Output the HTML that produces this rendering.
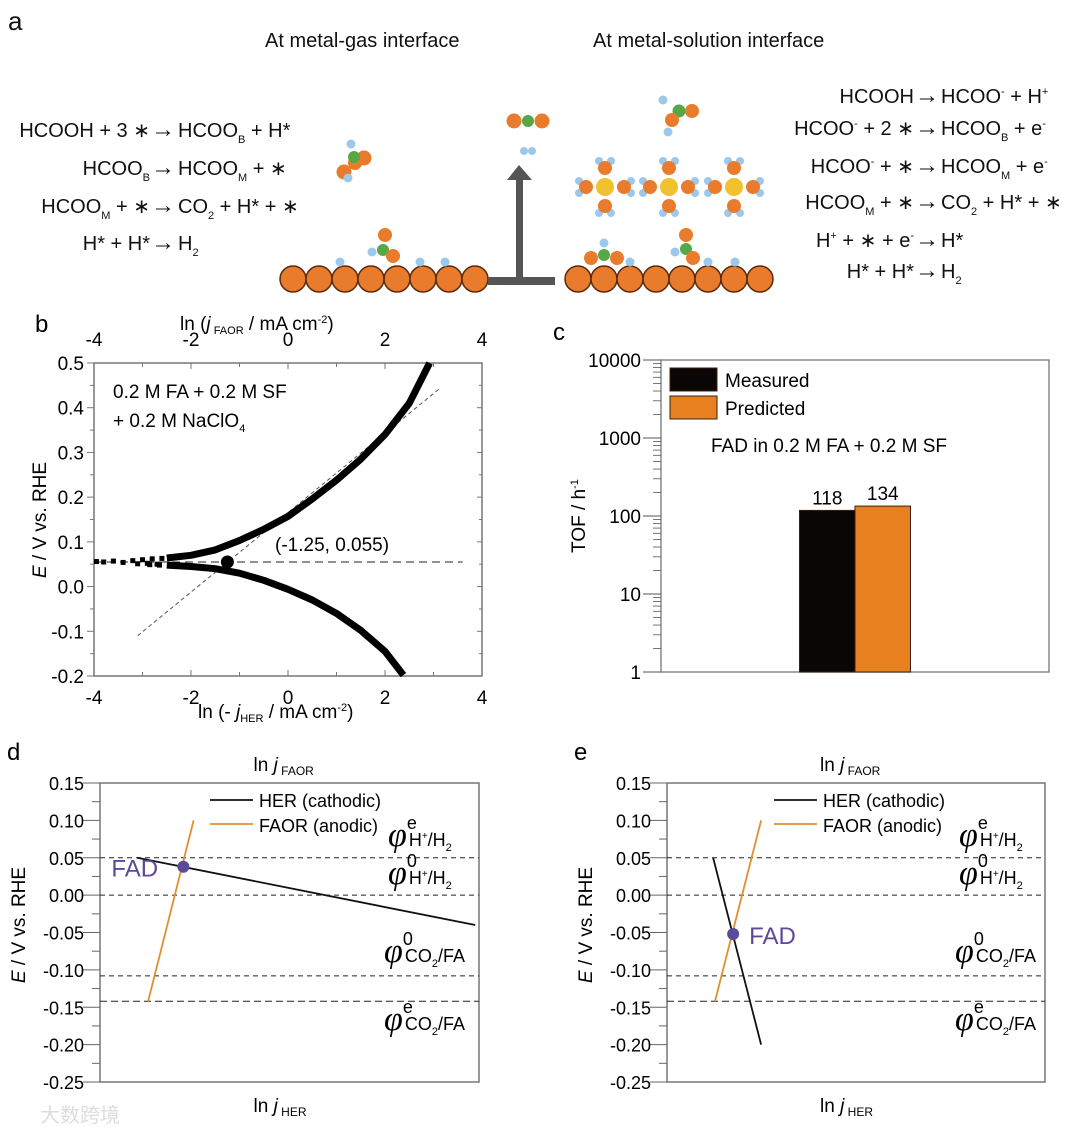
<!DOCTYPE html>
<html><head><meta charset="utf-8"><style>
html,body{margin:0;padding:0;background:#fff;}
svg{display:block;font-family:"Liberation Sans",Arial,sans-serif;}
</style></head><body>
<svg id="fig" width="1080" height="1137" viewBox="0 0 1080 1137" xmlns="http://www.w3.org/2000/svg">
<!-- Panel a -->
<g id="pa" font-size="20" fill="#111">
<text x="8" y="30" font-size="26">a</text>
<text x="265" y="47" font-size="20">At metal-gas interface</text>
<text x="593" y="47" font-size="20">At metal-solution interface</text>
<g>
<text x="150" y="137" text-anchor="end">HCOOH + 3 ∗</text><text x="163" y="137" text-anchor="middle" font-size="24">→</text><text x="178" y="137">HCOO<tspan font-size="11" dy="6">B</tspan><tspan dy="-6"> + H*</tspan></text>
<text x="150" y="175" text-anchor="end">HCOO<tspan font-size="11" dy="6">B</tspan><tspan dy="-6"></tspan></text><text x="163" y="175" text-anchor="middle" font-size="24">→</text><text x="178" y="175">HCOO<tspan font-size="11" dy="6">M</tspan><tspan dy="-6"> + ∗</tspan></text>
<text x="150" y="213" text-anchor="end">HCOO<tspan font-size="11" dy="6">M</tspan><tspan dy="-6"> + ∗</tspan></text><text x="163" y="213" text-anchor="middle" font-size="24">→</text><text x="178" y="213">CO<tspan font-size="11" dy="6">2</tspan><tspan dy="-6"> + H* + ∗</tspan></text>
<text x="150" y="250" text-anchor="end">H* + H*</text><text x="163" y="250" text-anchor="middle" font-size="24">→</text><text x="178" y="250">H<tspan font-size="11" dy="6">2</tspan></text>
</g>
<g>
<text x="914" y="103" text-anchor="end">HCOOH</text><text x="927" y="103" text-anchor="middle" font-size="24">→</text><text x="941" y="103">HCOO<tspan font-size="11" dy="-8">-</tspan><tspan dy="8"> + H</tspan><tspan font-size="11" dy="-8">+</tspan></text>
<text x="914" y="135" text-anchor="end">HCOO<tspan font-size="11" dy="-8">-</tspan><tspan dy="8"> + 2 ∗</tspan></text><text x="927" y="135" text-anchor="middle" font-size="24">→</text><text x="941" y="135">HCOO<tspan font-size="11" dy="6">B</tspan><tspan dy="-6"> + e</tspan><tspan font-size="11" dy="-8">-</tspan></text>
<text x="914" y="173" text-anchor="end">HCOO<tspan font-size="11" dy="-8">-</tspan><tspan dy="8"> + ∗</tspan></text><text x="927" y="173" text-anchor="middle" font-size="24">→</text><text x="941" y="173">HCOO<tspan font-size="11" dy="6">M</tspan><tspan dy="-6"> + e</tspan><tspan font-size="11" dy="-8">-</tspan></text>
<text x="914" y="209" text-anchor="end">HCOO<tspan font-size="11" dy="6">M</tspan><tspan dy="-6"> + ∗</tspan></text><text x="927" y="209" text-anchor="middle" font-size="24">→</text><text x="941" y="209">CO<tspan font-size="11" dy="6">2</tspan><tspan dy="-6"> + H* + ∗</tspan></text>
<text x="914" y="247" text-anchor="end">H<tspan font-size="11" dy="-8">+</tspan><tspan dy="8"> + ∗ + e</tspan><tspan font-size="11" dy="-8">-</tspan></text><text x="927" y="247" text-anchor="middle" font-size="24">→</text><text x="941" y="247">H*</text>
<text x="914" y="278" text-anchor="end">H* + H*</text><text x="927" y="278" text-anchor="middle" font-size="24">→</text><text x="941" y="278">H<tspan font-size="11" dy="6">2</tspan></text>
</g>
<g id="atoms"></g>
<g stroke-width="1">
<circle cx="355" cy="163" r="7" fill="#e87b2c"/><circle cx="351" cy="144" r="4.5" fill="#9cc8ec"/><circle cx="344" cy="172" r="7.5" fill="#e87b2c"/><circle cx="364" cy="158" r="7.5" fill="#e87b2c"/><circle cx="354" cy="157" r="6" fill="#55a845"/><circle cx="348" cy="178" r="4.5" fill="#9cc8ec"/>
<circle cx="385" cy="235" r="7" fill="#e87b2c"/><circle cx="383" cy="250" r="6" fill="#55a845"/><circle cx="372" cy="252" r="4.5" fill="#9cc8ec"/><circle cx="393" cy="256" r="7" fill="#e87b2c"/>
<circle cx="340" cy="262" r="4.5" fill="#9cc8ec"/><circle cx="420" cy="262" r="4.5" fill="#9cc8ec"/><circle cx="445" cy="262" r="4.5" fill="#9cc8ec"/>
<circle cx="514" cy="121" r="7.5" fill="#e87b2c"/><circle cx="528" cy="121" r="6" fill="#55a845"/><circle cx="542" cy="121" r="7.5" fill="#e87b2c"/>
<circle cx="524" cy="151" r="4" fill="#9cc8ec"/><circle cx="532" cy="151" r="4" fill="#9cc8ec"/>
<circle cx="663" cy="100" r="4.5" fill="#9cc8ec"/><circle cx="679" cy="111" r="6.5" fill="#55a845"/><circle cx="692" cy="111" r="7" fill="#e87b2c"/><circle cx="672" cy="120" r="7" fill="#e87b2c"/><circle cx="668" cy="132" r="4.5" fill="#9cc8ec"/>
<g id="ions"></g>
<circle cx="591" cy="258" r="7" fill="#e87b2c"/><circle cx="604" cy="255" r="6" fill="#55a845"/><circle cx="604" cy="243" r="4.5" fill="#9cc8ec"/><circle cx="617" cy="258" r="7" fill="#e87b2c"/>
<circle cx="686" cy="235" r="7" fill="#e87b2c"/><circle cx="686" cy="249" r="6" fill="#55a845"/><circle cx="675" cy="252" r="4.5" fill="#9cc8ec"/><circle cx="693" cy="258" r="7" fill="#e87b2c"/>
<circle cx="630" cy="262" r="4.5" fill="#9cc8ec"/><circle cx="708" cy="262" r="4.5" fill="#9cc8ec"/><circle cx="735" cy="262" r="4.5" fill="#9cc8ec"/>
</g>
<g fill="#555">
<rect x="488" y="277" width="67" height="8"/><rect x="516" y="178" width="7" height="100"/><polygon points="507,180 532,180 519,165"/>
</g>
</g>

<g id="pb"></g>
<g id="pc"></g>
<g id="pd"></g>
<g id="pe"></g>
<text x="40" y="1122" font-size="20" fill="#ddd" font-family="'Liberation Sans','Noto Sans CJK SC',sans-serif">大数跨境</text>
</svg>
<script>
// ---------- Panel b data ----------
const bXTicks = [-4, -2, 0, 2, 4];
const bYTicks = [0.5, 0.4, 0.3, 0.2, 0.1, 0.0, -0.1, -0.2];
const bYTickLabels = ["0.5", "0.4", "0.3", "0.2", "0.1", "0.0", "-0.1", "-0.2"];
const faorX = [-2.5, -2.0, -1.5, -1.0, -0.5, 0.0, 0.5, 1.0, 1.5, 2.0, 2.5, 2.92];
const faorE = [0.064, 0.070, 0.082, 0.103, 0.128, 0.157, 0.196, 0.238, 0.285, 0.340, 0.410, 0.500];
const herX = [-2.5, -2.0, -1.5, -1.0, -0.5, 0.0, 0.5, 1.0, 1.5, 2.0, 2.38];
const herE = [0.048, 0.045, 0.040, 0.030, 0.014, -0.006, -0.030, -0.060, -0.098, -0.145, -0.198];
const noiseX = [-3.95, -3.8, -3.6, -3.4, -3.2, -3.0, -2.9, -2.8, -2.7, -2.6, -3.1, -2.85, -2.65];
const noiseE = [0.056, 0.055, 0.057, 0.054, 0.058, 0.060, 0.052, 0.062, 0.050, 0.063, 0.051, 0.049, 0.048];
const tafelX = [-3.1, 3.15];
const tafelE = [-0.11, 0.445];
const ecorrPoint = [-1.25, 0.055];

// ---------- Panel c data ----------
const cCategories = ["Measured", "Predicted"];
const cValues = [118, 134];
const cTickValues = [1, 10, 100, 1000, 10000];
const cColors = ["#0a0606", "#e8801f"];

// ---------- Panel d/e data ----------
const deYTicks = [0.15, 0.10, 0.05, 0.00, -0.05, -0.10, -0.15, -0.20, -0.25];
const deYTickLabels = ["0.15", "0.10", "0.05", "0.00", "-0.05", "-0.10", "-0.15", "-0.20", "-0.25"];
const refLevels = [0.05, 0.0, -0.108, -0.142];
const dHerX = [0.98, 9.9];
const dHerE = [0.05, -0.04];
const dFaorX = [1.27, 2.47];
const dFaorE = [-0.142, 0.10];
const dFad = [2.2, 0.038];
const eHerX = [1.22, 2.49];
const eHerE = [0.05, -0.2];
const eFaorX = [1.27, 2.49];
const eFaorE = [-0.142, 0.10];
const eFad = [1.75, -0.052];

const NS = "http://www.w3.org/2000/svg";
function mk(parent, tag, attrs, text) {
  const el = document.createElementNS(NS, tag);
  for (const k in attrs) el.setAttribute(k, attrs[k]);
  if (text !== undefined) el.textContent = text;
  parent.appendChild(el);
  return el;
}

(function(){
  const g = document.getElementById('atoms');
  for (let r = 0; r < 2; r++) {
    for (let i = 0; i < 8; i++) {
      const c = mk(g, 'circle', {cx: (r ? 578 : 293) + i * 26, cy: 279, r: 13, fill: '#e87b2c', stroke: '#5a2a0a', 'stroke-width': 1.5});
      
      
    }
  }
  const ig = document.getElementById('ions');
  [605, 669, 734].forEach(cx => {
    const cy = 187;
    [[0,-19],[0,19],[-19,0],[19,0]].forEach(([dx,dy]) => {
      const ox = cx+dx, oy = cy+dy;
      if (dy) { mk(ig,'circle',{cx:ox-6,cy:oy+(dy>0?7:-7),r:4,fill:'#9cc8ec'}); mk(ig,'circle',{cx:ox+6,cy:oy+(dy>0?7:-7),r:4,fill:'#9cc8ec'}); }
      else { mk(ig,'circle',{cx:ox+(dx>0?7:-7),cy:oy-6,r:4,fill:'#9cc8ec'}); mk(ig,'circle',{cx:ox+(dx>0?7:-7),cy:oy+6,r:4,fill:'#9cc8ec'}); }
      mk(ig,'circle',{cx:ox,cy:oy,r:7,fill:'#e87b2c'});
    });
    mk(ig,'circle',{cx:cx,cy:cy,r:9,fill:'#f2c22e'});
  });
})();

// ---------- Panel b ----------
(function(){
  const g = document.getElementById('pb');
  const X0 = 94, X1 = 482, Y0 = 363, Y1 = 676;
  const sx = v => X0 + (v + 4) / 8 * (X1 - X0);
  const sy = v => Y0 + (0.5 - v) / 0.7 * (Y1 - Y0);
  let t = mk(g, 'text', {x: 35, y: 332, 'font-size': 24}, 'b');
   
  const fr = mk(g, 'rect', {x: X0, y: Y0, width: X1 - X0, height: Y1 - Y0, fill: 'none', stroke: '#777', 'stroke-width': 1.5});
   
  for (let v = -4; v <= 4; v++) {
    const L = v % 2 === 0 ? 6 : 4;
    mk(g, 'line', {x1: sx(v), x2: sx(v), y1: Y0, y2: Y0 + L, stroke: '#777'});
    mk(g, 'line', {x1: sx(v), x2: sx(v), y1: Y1, y2: Y1 - L, stroke: '#777'});
  }
  bXTicks.forEach(v => {
    t = mk(g, 'text', {x: sx(v), y: Y1 + 28, 'font-size': 19, 'text-anchor': 'middle'}, String(v));
     
    t = mk(g, 'text', {x: sx(v), y: Y0 - 17, 'font-size': 19, 'text-anchor': 'middle'}, String(v));
     
  });
  for (let k = 0; k <= 14; k++) {
    const v = 0.5 - k * 0.05;
    mk(g, 'line', {x1: X0 - (k % 2 ? 4 : 7), x2: X0, y1: sy(v), y2: sy(v), stroke: '#777'});
    mk(g, 'line', {x1: X1, x2: X1 - (k % 2 ? 3 : 5), y1: sy(v), y2: sy(v), stroke: '#777'});
  }
  bYTicks.forEach((v, i) => {
    t = mk(g, 'text', {x: X0 - 10, y: sy(v) + 7, 'font-size': 19, 'text-anchor': 'end'}, bYTickLabels[i]);
     
  });
  t = mk(g, 'text', {x: 0, y: 0, 'font-size': 19, transform: 'translate(46,520) rotate(-90)', 'text-anchor': 'middle'});
  t.innerHTML = '<tspan font-style="italic">E</tspan> / V vs. RHE';
   
  t = mk(g, 'text', {x: 180, y: 330, 'font-size': 19});
  t.innerHTML = 'ln (<tspan font-style="italic">j</tspan><tspan font-size="11" dy="4"> FAOR</tspan><tspan dy="-4"> / mA cm</tspan><tspan font-size="11" dy="-7">-2</tspan><tspan dy="7">)</tspan>';
   
  t = mk(g, 'text', {x: 198, y: 718, 'font-size': 19});
  t.innerHTML = 'ln (- <tspan font-style="italic">j</tspan><tspan font-size="11" dy="4">HER</tspan><tspan dy="-4"> / mA cm</tspan><tspan font-size="11" dy="-7">-2</tspan><tspan dy="7">)</tspan>';
   
  t = mk(g, 'text', {x: 113, y: 398, 'font-size': 19}, '0.2 M FA + 0.2 M SF');
   
  t = mk(g, 'text', {x: 113, y: 427, 'font-size': 19});
  t.innerHTML = '+ 0.2 M NaClO<tspan font-size="11" dy="5">4</tspan>';
   
  let l = mk(g, 'line', {x1: sx(-4), x2: sx(3.6), y1: sy(ecorrPoint[1]), y2: sy(ecorrPoint[1]), stroke: '#222', 'stroke-dasharray': '8,5', 'stroke-width': 1});
   
  l = mk(g, 'line', {x1: sx(tafelX[0]), x2: sx(tafelX[1]), y1: sy(tafelE[0]), y2: sy(tafelE[1]), stroke: '#555', 'stroke-dasharray': '4,3', 'stroke-width': 1});
   
  const path = (xs, es) => xs.map((x, i) => (i ? 'L' : 'M') + sx(x).toFixed(1) + ',' + sy(es[i]).toFixed(1)).join('');
  let p = mk(g, 'path', {d: path(faorX, faorE), fill: 'none', stroke: '#000', 'stroke-width': 7, 'stroke-linejoin': 'round'});
   
  p = mk(g, 'path', {d: path(herX, herE), fill: 'none', stroke: '#000', 'stroke-width': 7, 'stroke-linejoin': 'round'});
   
  noiseX.forEach((x, i) => {
    const r = mk(g, 'rect', {x: sx(x) - 2.5, y: sy(noiseE[i]) - 2.5, width: 5, height: 5, fill: '#000'});
     
  });
  const c = mk(g, 'circle', {cx: sx(ecorrPoint[0]), cy: sy(ecorrPoint[1]), r: 6.5, fill: '#000'});
   
  t = mk(g, 'text', {x: 275, y: 551, 'font-size': 19}, '(' + ecorrPoint[0] + ', ' + ecorrPoint[1] + ')');
   
})();

// ---------- Panel c ----------
(function(){
  const g = document.getElementById('pc');
  const X0 = 661, X1 = 1049, Y0 = 360, Y1 = 672;
  const sy = v => Y1 - Math.log10(v) / 4 * (Y1 - Y0);
  let t = mk(g, 'text', {x: 553, y: 340, 'font-size': 24}, 'c');
   
  const fr = mk(g, 'rect', {x: X0, y: Y0, width: X1 - X0, height: Y1 - Y0, fill: 'none', stroke: '#888', 'stroke-width': 1.5});
   
  for (let d = 0; d < 4; d++) for (let m = 2; m <= 9; m++) {
    const v = m * Math.pow(10, d);
    mk(g, 'line', {x1: X0 - 8, x2: X0, y1: sy(v), y2: sy(v), stroke: '#555', 'stroke-width': 0.8});
  }
  cTickValues.forEach(v => {
    mk(g, 'line', {x1: X0 - 18, x2: X0, y1: sy(v), y2: sy(v), stroke: '#555'});
    t = mk(g, 'text', {x: X0 - 20, y: sy(v) + 7, 'font-size': 19, 'text-anchor': 'end'}, String(v));
     
  });
  t = mk(g, 'text', {x: 0, y: 0, 'font-size': 19, transform: 'translate(585,516) rotate(-90)', 'text-anchor': 'middle'});
  t.innerHTML = 'TOF / h<tspan font-size="11" dy="-7">-1</tspan>';
   
  const bw = 55.5, bx0 = 799.5;
  cValues.forEach((v, i) => {
    const r = mk(g, 'rect', {x: bx0 + i * bw, y: sy(v), width: bw, height: Y1 - sy(v), fill: cColors[i], stroke: '#3a2010', 'stroke-width': 1});
    
    
    t = mk(g, 'text', {x: bx0 + i * bw + bw / 2, y: sy(v) - 6, 'font-size': 19, 'text-anchor': 'middle'}, String(v));
     
  });
  cCategories.forEach((c, i) => {
    const r = mk(g, 'rect', {x: 670, y: 368 + i * 28, width: 47, height: 23, fill: cColors[i], stroke: '#3a2010', 'stroke-width': 1});
     
    t = mk(g, 'text', {x: 725, y: 387 + i * 28, 'font-size': 19}, c);
     
  });
  t = mk(g, 'text', {x: 711, y: 452, 'font-size': 19}, 'FAD in 0.2 M FA + 0.2 M SF');
   
})();

// ---------- Panels d & e ----------
function drawMixed(id, X0, X1, label, herX, herE, faorX, faorE, fad, fadLabelDx, legendX, phiX) {
  const g = document.getElementById(id);
  const Y0 = 783, Y1 = 1082;
  const sx = v => X0 + v / 10 * (X1 - X0);
  const sy = v => Y0 + (0.15 - v) / 0.4 * (Y1 - Y0);
  let t = mk(g, 'text', {x: X0 - 93, y: 760, 'font-size': 24}, label);
   
  const fr = mk(g, 'rect', {x: X0, y: Y0, width: X1 - X0, height: Y1 - Y0, fill: 'none', stroke: '#777', 'stroke-width': 1.5});
   
  for (let k = 0; k <= 16; k++) {
    const v = 0.15 - k * 0.025;
    mk(g, 'line', {x1: X0 - (k % 2 ? 8 : 17), x2: X0, y1: sy(v), y2: sy(v), stroke: '#666'});
  }
  deYTicks.forEach((v, i) => {
    t = mk(g, 'text', {x: X0 - 16, y: sy(v) + 7, 'font-size': 18, 'text-anchor': 'end'}, deYTickLabels[i]);
     
  });
  t = mk(g, 'text', {x: 0, y: 0, 'font-size': 19, transform: 'translate(' + (X0 - 75) + ',925) rotate(-90)', 'text-anchor': 'middle'});
  t.innerHTML = '<tspan font-style="italic">E</tspan> / V vs. RHE';
   
  const cx = (X0 + X1) / 2 - 3;
  t = mk(g, 'text', {x: cx - 33, y: 771, 'font-size': 19});
  t.innerHTML = 'ln <tspan font-style="italic">j</tspan><tspan font-size="12" dy="4"> FAOR</tspan>';
   
  t = mk(g, 'text', {x: cx - 33, y: 1112, 'font-size': 19});
  t.innerHTML = 'ln <tspan font-style="italic">j</tspan><tspan font-size="12" dy="4"> HER</tspan>';
   
  refLevels.forEach(v => {
    const l = mk(g, 'line', {x1: X0, x2: X1, y1: sy(v), y2: sy(v), stroke: '#222', 'stroke-dasharray': v < -0.12 ? '7,4' : '5,4', 'stroke-width': 1});
     
  });
  let l = mk(g, 'line', {x1: sx(herX[0]), x2: sx(herX[1]), y1: sy(herE[0]), y2: sy(herE[1]), stroke: '#111', 'stroke-width': 1.8});
   
  l = mk(g, 'line', {x1: sx(faorX[0]), x2: sx(faorX[1]), y1: sy(faorE[0]), y2: sy(faorE[1]), stroke: '#e0902e', 'stroke-width': 1.8});
   
  const c = mk(g, 'circle', {cx: sx(fad[0]), cy: sy(fad[1]), r: 6, fill: '#5b4a9a'});
   
  t = mk(g, 'text', {x: sx(fad[0]) + fadLabelDx, y: sy(fad[1]) + 10, 'font-size': 24, fill: '#5b4a9a'}, 'FAD');
   
  l = mk(g, 'line', {x1: legendX, x2: legendX + 43, y1: 800, y2: 800, stroke: '#111', 'stroke-width': 1.8});
   
  t = mk(g, 'text', {x: legendX + 49, y: 807, 'font-size': 18}, 'HER (cathodic)');
   
  l = mk(g, 'line', {x1: legendX, x2: legendX + 43, y1: 824, y2: 824, stroke: '#e0902e', 'stroke-width': 1.8});
   
  t = mk(g, 'text', {x: legendX + 49, y: 832, 'font-size': 18}, 'FAOR (anodic)');
   
  const phis = [['e', 'H', 846, true], ['0', 'H', 884, true], ['0', 'C', 962, false], ['e', 'C', 1030, false]];
  phis.forEach(([sup, kind, y, isH]) => {
    t = mk(g, 'text', {x: phiX + (isH ? 2 : -2), y: y, 'font-size': 18});
    t.innerHTML = '<tspan font-size="34" font-style="italic" font-family="Liberation Serif,serif">φ</tspan><tspan dy="-17" font-size="18">' + sup + '</tspan>' +
      (isH ? '<tspan dy="17" dx="-8">H</tspan><tspan font-size="10" dy="-7">+</tspan><tspan dy="7">/H</tspan><tspan font-size="11" dy="5">2</tspan>'
           : '<tspan dy="17" dx="-8">CO</tspan><tspan font-size="11" dy="5">2</tspan><tspan dy="-5">/FA</tspan>');
     
  });
}
drawMixed('pd', 100, 479, 'd', dHerX, dHerE, dFaorX, dFaorE, dFad, -72, 210, 386);
drawMixed('pe', 667, 1045, 'e', eHerX, eHerE, eFaorX, eFaorE, eFad, 16, 774, 957);
</script>
</body></html>
